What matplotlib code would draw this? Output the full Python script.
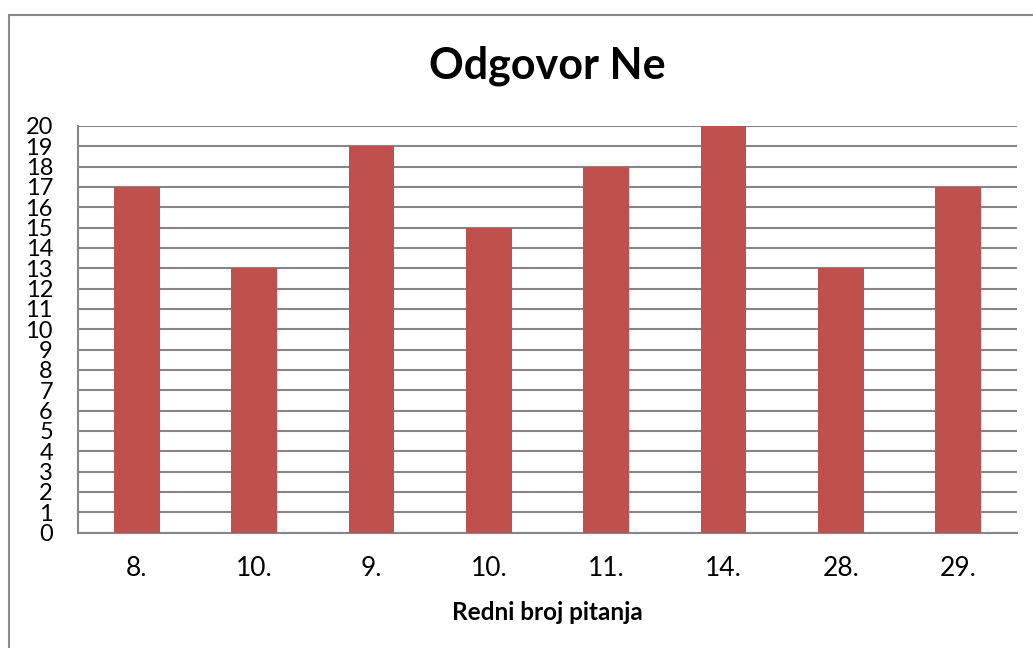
import numpy as np
import matplotlib.pyplot as plt
from matplotlib.patches import Rectangle

# podaci
categories = ['8.', '10.', '9.', '10.', '11.', '14.', '28.', '29.']
values = [17, 13, 19, 15, 18, 20, 13, 17]
y_ticks = list(range(0, 21))

plt.rcParams['font.family'] = ['Lato', 'DejaVu Sans']

W, H = 1033, 648
fig = plt.figure(figsize=(W / 100, H / 100), dpi=100)
ax = fig.add_axes([78 / W, 1 - 532.5 / H, (1017 - 78) / W, (532.5 - 126) / H])

# okvir grafikona (izlazi izvan slike desno i dolje)
fig.patches.append(Rectangle((8.5 / W, -0.05), 1.1, 1 - 14.5 / H + 0.05,
                             transform=fig.transFigure, fill=False,
                             edgecolor='#898989', linewidth=1.5))

x = np.arange(len(categories))
ax.bar(x, values, width=0.39, color='#C0504D', zorder=3)

ax.set_xlim(-0.5, len(categories) - 0.5)
ax.set_ylim(0, 20)
ax.set_yticks(y_ticks)
ax.set_yticklabels([str(v) for v in y_ticks], fontsize=17)
ax.set_xticks(x)
ax.set_xticklabels(categories, fontsize=19)
ax.tick_params(axis='both', length=0)
ax.tick_params(axis='y', pad=18)
ax.tick_params(axis='x', pad=17)

ax.grid(axis='y', color='#868686', linewidth=1.5, zorder=0)
for s in ['top', 'right']:
    ax.spines[s].set_visible(False)
for s in ['left', 'bottom']:
    ax.spines[s].set_color('#868686')
    ax.spines[s].set_linewidth(1.5)

fig.text(0.5295, 1 - 66 / H, 'Odgovor Ne', ha='center', va='center',
         fontsize=31, fontweight='bold')
ax.set_xlabel('Redni broj pitanja', fontsize=17.5, fontweight='bold', labelpad=14)

fig.savefig('out.png', dpi=100)
